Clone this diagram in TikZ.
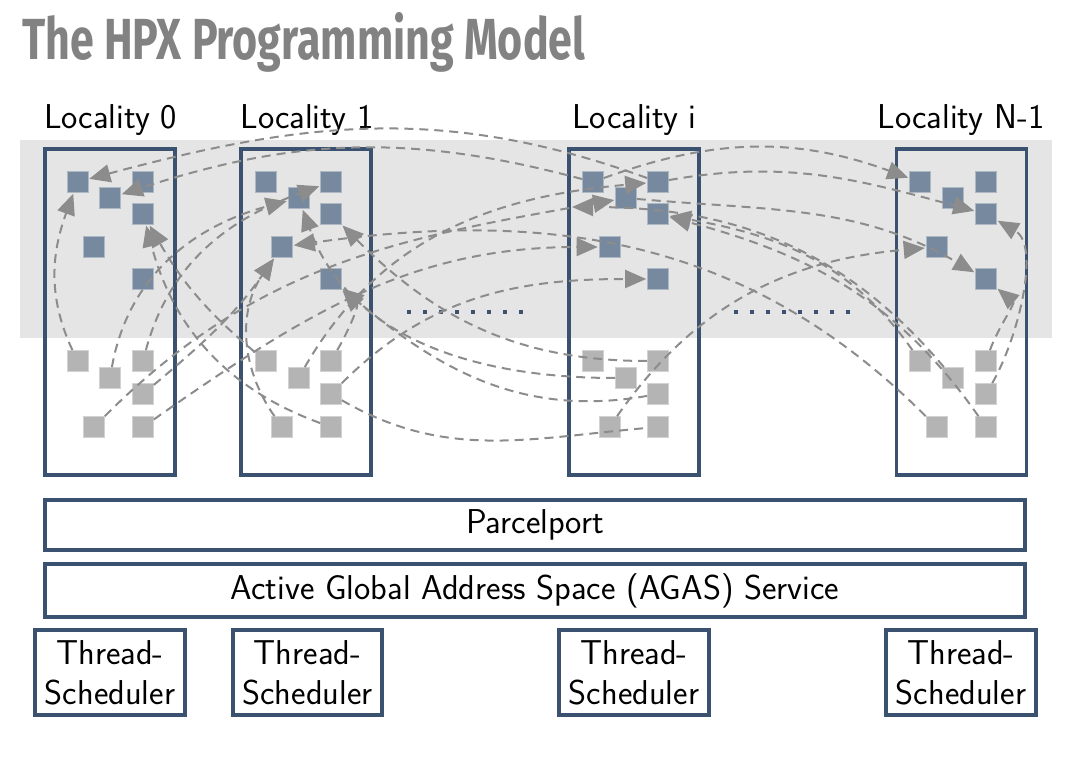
\documentclass[tikz,border=0pt]{standalone}
\usepackage{fontspec}
\usepackage{graphicx}
\newfontfamily\titlefont{Fira Sans}
\usetikzlibrary{arrows.meta}
\definecolor{boxc}{RGB}{58,82,112}
\definecolor{bluesq}{RGB}{119,137,158}
\definecolor{graysq}{RGB}{180,180,180}
\definecolor{bandc}{RGB}{229,229,229}
\definecolor{arr}{RGB}{140,140,140}
\definecolor{titlec}{RGB}{130,130,130}
\begin{document}
\begin{tikzpicture}[x=1pt,y=1pt,
  lab/.style={font=\fontsize{34.5}{40}\selectfont\sffamily},
  frame/.style={draw=boxc, line width=3.8pt, inner sep=0pt},
  locbox/.style={frame, minimum width=130pt, minimum height=326pt},
  bsq/.style={fill=bluesq, draw=bluesq!60!white, line width=0.6pt, minimum size=21pt, inner sep=0pt},
  gsq/.style={fill=graysq, draw=graysq!60!white, line width=0.6pt, minimum size=21pt, inner sep=0pt},
  plainflow/.style={draw=arr, line width=2pt, dash pattern=on 9pt off 6pt, shorten >=1pt},
  flow/.style={plainflow, -{Triangle[length=21pt,width=18pt]}},
  dotsq/.style={fill=boxc}
]
\useasboundingbox (0,0) rectangle (1074,772);
% title
\node[anchor=base west, inner sep=0pt, text=titlec] (title) at (22,712)
  {\resizebox{563pt}{47pt}{\titlefont\bfseries The HPX Programming Model}};
% band
\fill[bandc] (20,434) rectangle (1052,632);
% locality boxes
\node[locbox] (L0) at (110,460) {};
\node[locbox] (L1) at (306,460) {};
\node[locbox] (Li) at (634,460) {};
\node[locbox] (LN) at (961.5,460) {};
% labels
\node[lab, anchor=base, inner sep=0pt] (t0) at (110.5,643) {Locality 0};
\node[lab, anchor=base, inner sep=0pt] (t1) at (307,643) {Locality 1};
\node[lab, anchor=base, inner sep=0pt] (ti) at (634.5,643) {Locality i};
\node[lab, anchor=base, inner sep=0pt] (tN) at (961,643) {Locality N-1};
% squares
\foreach \n/\xa/\xb/\xc/\xm in {a/77.5/110/143/94, b/265.5/298.5/331/282, c/593/626/658/609.5, d/920/953/986/936.5} {
  \node[bsq] (\n-b1) at (\xa,590) {};
  \node[bsq] (\n-b2) at (\xb,574) {};
  \node[bsq] (\n-b3) at (\xc,590) {};
  \node[bsq] (\n-b4) at (\xc,558) {};
  \node[bsq] (\n-b5) at (\xm,525) {};
  \node[bsq] (\n-b6) at (\xc,493) {};
  \node[gsq] (\n-g1) at (\xa,411) {};
  \node[gsq] (\n-g2) at (\xb,394) {};
  \node[gsq] (\n-g3) at (\xc,411) {};
  \node[gsq] (\n-g4) at (\xc,378) {};
  \node[gsq] (\n-g5) at (\xm,345) {};
  \node[gsq] (\n-g6) at (\xc,345) {};
}
% dots
\foreach \k in {0,...,7} {
  \fill[dotsq] ({409+16*\k-2.25},457.75) rectangle +(4.5,4.5);
  \fill[dotsq] ({736+16*\k-2.25},457.75) rectangle +(4.5,4.5);
}
\coordinate (ci) at (571,565);
% bars
\node[frame, lab, minimum width=980pt, minimum height=50pt, text height=24pt, text depth=7pt] (pp) at (535,247) {Parcelport};
\node[frame, lab, minimum width=980pt, minimum height=53pt, text height=24pt, text depth=7pt] (agas) at (535,181.5) {Active Global Address Space (AGAS) Service};
\node[frame, lab, minimum width=150pt, minimum height=85pt, align=center] (ts0) at (110,99.5) {Thread-\\Scheduler};
\node[frame, lab, minimum width=149pt, minimum height=85pt, align=center] (ts1) at (307.5,99.5) {Thread-\\Scheduler};
\node[frame, lab, minimum width=150pt, minimum height=85pt, align=center] (tsi) at (634,99.5) {Thread-\\Scheduler};
\node[frame, lab, minimum width=150pt, minimum height=85pt, align=center] (tsN) at (961,99.5) {Thread-\\Scheduler};
% flows
\draw[flow] (a-g1) to[out=115,in=-110] (a-b1);
\draw[flow] (b-g6) to[out=160,in=-75] (a-b4);
\draw[flow] (b-g1) to[out=140,in=-60] (a-b4);
\draw[flow] (c-b3) to[out=160,in=15] (a-b1);
\draw[flow] (c-b1) to[out=165,in=18] (a-b2);
\draw[flow] (a-g2) to[out=80,in=195] (b-b2);
\draw[flow] (a-g3) to[out=75,in=200] (b-b3);
\draw[flow] (a-g4) to[out=40,in=-125] (b-b5);
\draw[flow] (a-g5) to[out=45,in=190] (c-b2);
\draw[flow] (a-g6) to[out=35,in=180] (c-b5);
\draw[flow] (b-g5) to[out=125,in=-125] (b-b5);
\draw[flow] (b-g3) to[out=60,in=-45] (b-b6);
\draw[flow] (b-g4) to[out=45,in=180] (c-b6);
\draw[flow] (b-g2) to[out=60,in=185] (c-b3);
\draw[flow] (c-g3) to[out=180,in=-45] (b-b4);
\draw[flow] (c-g2) to[out=180,in=-70] (b-b2);
\draw[flow] (c-g4) to[out=190,in=-40] (b-b6);
\draw[plainflow] (b-g4) to[out=-30,in=185] (c-g6);
\draw[flow] (c-g5) to[out=55,in=185] (d-b5);
\draw[flow] (c-b1) to[out=20,in=160] (d-b1);
\draw[flow] (c-b3) to[out=10,in=165] (d-b4);
\draw[flow] (c-b2) to[out=-5,in=150] (d-b6);
\draw[flow] (d-g1) to[out=125,in=-10] (c-b4);
\draw[flow] (d-g2) to[out=130,in=0] (ci);
\draw[flow] (d-g6) to[out=125,in=-15] (c-b4);
\draw[flow] (d-g5) to[out=135,in=8] (b-b5);
\draw[flow] (d-g3) to[out=70,in=-40] (d-b6);
\draw[flow] (d-g4) to[out=60,in=-30,looseness=0.8] (d-b4);
\end{tikzpicture}
\end{document}
